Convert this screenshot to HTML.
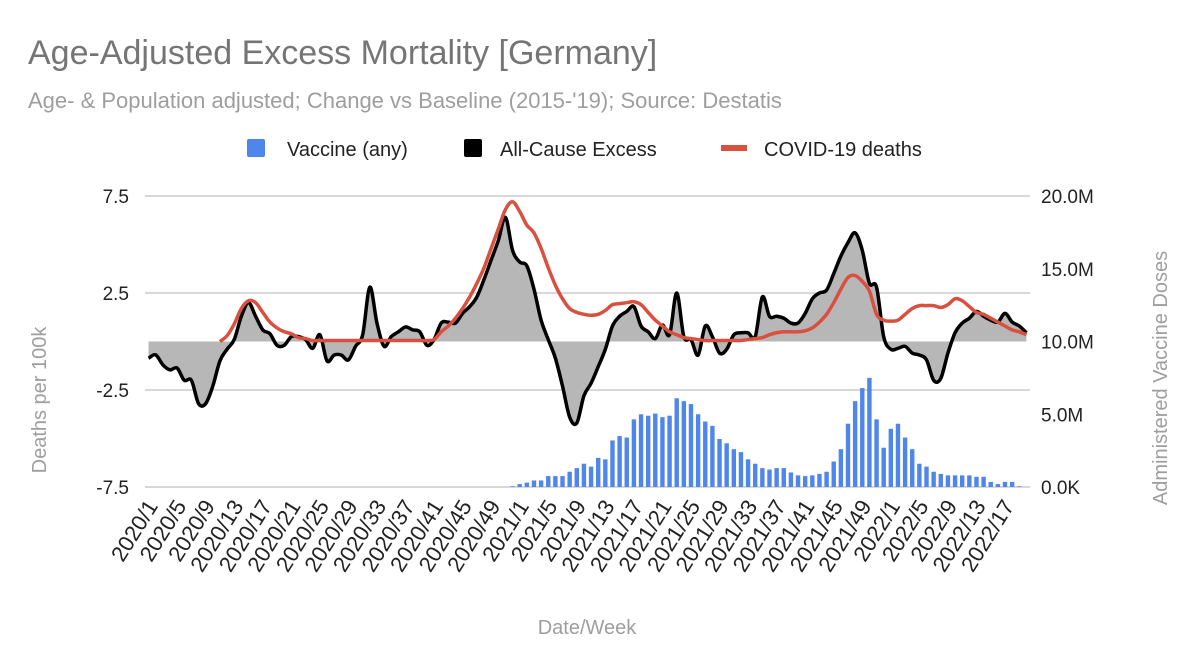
<!DOCTYPE html>
<html><head><meta charset="utf-8"><style>
body{margin:0;background:#fff;}
svg{display:block;font-family:"Liberation Sans",Arial,sans-serif;}
</style></head><body>
<svg id="chart" width="1200" height="670" viewBox="0 0 1200 670">
<text x="28" y="64" font-size="34" fill="#757575">Age-Adjusted Excess Mortality [Germany]</text>
<text x="28" y="108" font-size="22" fill="#9e9e9e">Age- &amp; Population adjusted; Change vs Baseline (2015-'19); Source: Destatis</text>
<g>
<g><rect x="247" y="139" width="18" height="18" rx="2" fill="#4f86ec"/><text x="287" y="156" font-size="20" fill="#222">Vaccine (any)</text></g>
<g><rect x="464" y="139" width="18" height="18" rx="2" fill="#000"/><text x="500" y="156" font-size="20" fill="#222">All-Cause Excess</text></g>
<g><rect x="721" y="145" width="26" height="6" fill="#d9503f"/><text x="764" y="156" font-size="20" fill="#222">COVID-19 deaths</text></g>
</g>
<g id="grid"></g>
<g id="bars"></g>
<g id="lines"></g>
<g id="axes"></g>
<text transform="translate(46,400) rotate(-90)" text-anchor="middle" font-size="20" fill="#9e9e9e">Deaths per 100k</text>
<text transform="translate(1167,378) rotate(-90)" text-anchor="middle" font-size="20" fill="#9e9e9e">Administered Vaccine Doses</text>
<text x="587" y="634" text-anchor="middle" font-size="20" fill="#9e9e9e">Date/Week</text>
</svg>
<script>
const excess=[-0.86,-0.69,-1.2,-1.46,-1.37,-2.0,-2.0,-3.2,-3.2,-2.3,-1.0,-0.4,0.1,1.3,2.0,1.3,0.6,0.4,-0.2,-0.2,0.25,0.25,0.1,-0.35,0.35,-1.0,-0.7,-0.7,-0.95,-0.25,0.35,2.8,0.95,-0.25,0.25,0.5,0.75,0.6,0.5,-0.2,0.1,0.95,1.0,0.95,1.45,1.8,2.3,3.2,4.2,5.2,6.4,4.7,4.1,3.9,2.7,1.1,0.1,-0.86,-2.3,-3.9,-4.2,-2.8,-2.15,-1.3,-0.4,0.8,1.3,1.55,1.8,0.8,0.5,0.15,0.85,0.35,2.5,0.25,0.1,-0.7,0.8,0.25,-0.6,-0.4,0.35,0.45,0.45,0.25,2.3,1.3,1.3,1.2,0.95,0.95,1.45,2.2,2.5,2.65,3.5,4.4,5.1,5.6,4.7,3.0,2.8,0.25,-0.4,-0.35,-0.25,-0.6,-0.7,-0.95,-2.0,-1.9,-0.6,0.45,0.95,1.2,1.55,1.3,1.1,1.0,1.45,1.0,0.8,0.45];
const covid=[null,null,null,null,null,null,null,null,null,null,0.0,0.3,0.9,1.7,2.1,2.0,1.5,1.0,0.7,0.5,0.4,0.2,0.15,0.05,0.05,0.05,0.05,0.05,0.05,0.05,0.05,0.05,0.05,0.05,0.05,0.05,0.05,0.05,0.05,0.05,0.1,0.5,0.8,1.2,1.7,2.3,3.0,3.8,4.8,5.8,6.8,7.2,6.7,6.0,5.6,4.8,3.8,2.9,2.2,1.7,1.5,1.4,1.35,1.4,1.6,1.9,1.95,2.0,2.05,1.9,1.5,1.1,0.8,0.5,0.35,0.2,0.15,0.1,0.05,0.05,0.05,0.05,0.05,0.05,0.1,0.15,0.2,0.35,0.45,0.5,0.5,0.5,0.55,0.7,1.0,1.4,2.0,2.7,3.3,3.4,3.1,2.6,1.4,1.1,1.05,1.1,1.4,1.7,1.85,1.85,1.85,1.75,1.9,2.2,2.1,1.8,1.5,1.4,1.2,1.0,0.8,0.6,0.5,0.35,null];
const vaccine=[0,0,0,0,0,0,0,0,0,0,0,0,0,0,0,0,0,0,0,0,0,0,0,0,0,0,0,0,0,0,0,0,0,0,0,0,0,0,0,0,0,0,0,0,0,0,0,0,0,0,0,0.05,0.2,0.3,0.45,0.45,0.75,0.75,0.75,1.05,1.3,1.6,1.4,2.0,1.9,3.2,3.5,3.4,4.65,5.0,4.9,5.05,4.8,4.9,6.1,5.9,5.7,5.0,4.5,4.2,3.3,3.0,2.6,2.4,1.9,1.6,1.3,1.2,1.3,1.3,1.0,0.8,0.75,0.8,0.9,1.05,1.75,2.6,4.35,5.9,6.8,7.5,4.65,2.7,4.0,4.35,3.4,2.6,1.6,1.4,1.05,0.9,0.8,0.8,0.8,0.8,0.7,0.7,0.35,0.2,0.35,0.35,0.05,0];
const leftTicks=[7.5,2.5,-2.5,-7.5];
const rightTicks=[20,15,10,5,0];
const rightTickLabels=["20.0M","15.0M","10.0M","5.0M","0.0K"];
const categories=[];
for(let w=1;w<=52;w++)categories.push("2020/"+w);
for(let w=1;w<=52;w++)categories.push("2021/"+w);
for(let w=1;w<=20;w++)categories.push("2022/"+w);

const NS="http://www.w3.org/2000/svg";
const X0=145,X1=1030,YT=196,YB=487;
const n=categories.length,step=(X1-X0)/n;
const xs=i=>X0+(i+0.5)*step;
const yL=v=>YB-(v+7.5)/15*(YB-YT);
const yR=v=>YB-v/20*(YB-YT);
function mk(tag,attrs,parent){const e=document.createElementNS(NS,tag);for(const k in attrs)e.setAttribute(k,attrs[k]);parent.appendChild(e);return e;}
const grid=document.getElementById('grid'),bars=document.getElementById('bars'),lines=document.getElementById('lines'),axes=document.getElementById('axes');
leftTicks.forEach(t=>{
 const l=mk('line',{x1:X0,x2:X1,y1:yL(t),y2:yL(t),stroke:'#cccccc','stroke-width':1.5},grid);
 
 
 const tx=mk('text',{x:129,y:yL(t)+7,'text-anchor':'end','font-size':19,fill:'#222'},axes);
 tx.textContent=t;
 
 
});
rightTicks.forEach((t,k)=>{
 const tx=mk('text',{x:1041,y:yR(t)+7,'font-size':19,fill:'#222'},axes);
 tx.textContent=rightTickLabels[k];
 
 
});
categories.forEach((c,i)=>{
 if(i%4!==0)return;
 const x=xs(i)+10,y=506;
 const tx=mk('text',{x:x,y:y,'text-anchor':'end','font-size':22,fill:'#222',transform:`rotate(-58 ${x} ${y})`},axes);
 tx.textContent=c;
 
 
});
vaccine.forEach((v,i)=>{
 if(v<=0)return;
 const b=mk('rect',{x:xs(i)-2.2,y:yR(v),width:4.4,height:YB-yR(v),fill:'#4f86ec'},bars);
 
 
});
function spline(pts){
 let d=`M${pts[0][0]},${pts[0][1]}`;
 for(let i=0;i<pts.length-1;i++){
  const p0=pts[i-1]||pts[i],p1=pts[i],p2=pts[i+1],p3=pts[i+2]||p2;
  const c1=[p1[0]+(p2[0]-p0[0])/6,p1[1]+(p2[1]-p0[1])/6],c2=[p2[0]-(p3[0]-p1[0])/6,p2[1]-(p3[1]-p1[1])/6];
  d+=`C${c1[0]},${c1[1]} ${c2[0]},${c2[1]} ${p2[0]},${p2[1]}`;
 }
 return d;
}
const ep=excess.map((v,i)=>[xs(i),yL(v)]);
const area=mk('path',{d:spline(ep)+`L${xs(excess.length-1)},${yL(0)}L${xs(0)},${yL(0)}Z`,fill:'#b7b7b7',stroke:'none'},lines);


const el=mk('path',{d:spline(ep),fill:'none',stroke:'#000','stroke-width':3.5,'stroke-linejoin':'round'},lines);


const cp=[];covid.forEach((v,i)=>{if(v!==null)cp.push([xs(i),yL(v)]);});
const cl=mk('path',{d:spline(cp),fill:'none',stroke:'#d9503f','stroke-width':3.5,'stroke-linejoin':'round'},lines);


</script>
</body></html>
